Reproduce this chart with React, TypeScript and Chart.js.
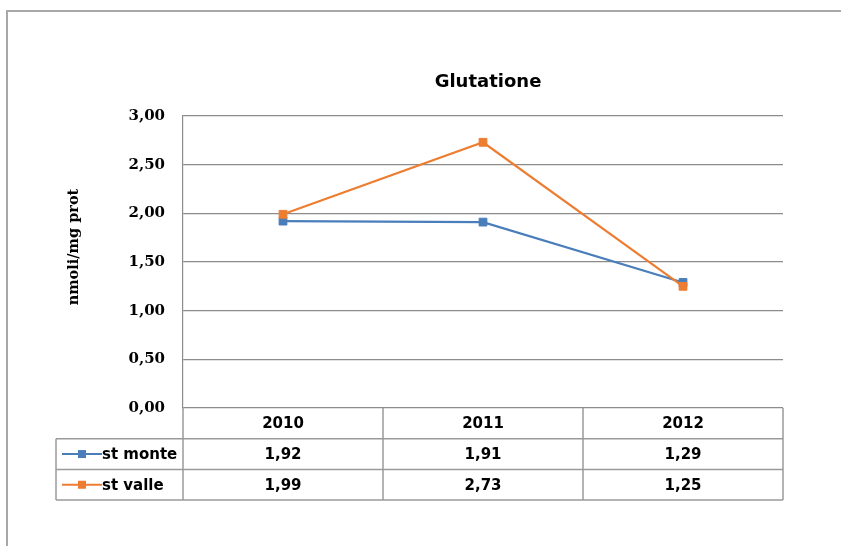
import React, { useEffect, useRef } from "react";
import { Chart, registerables } from "chart.js";

Chart.register(...registerables);

const years = ["2010", "2011", "2012"];
const stMonte = [1.92, 1.91, 1.29];
const stValle = [1.99, 2.73, 1.25];
const seriesNames = ["st monte", "st valle"];
const yTicks = [0, 0.5, 1, 1.5, 2, 2.5, 3];

const BLUE = "#4a7ebb";
const ORANGE = "#ed7d31";
const GRID = "#8c8c8c";
const TABLE_LINE = "#9a9a9a";

const fmt = (v: number) => v.toFixed(2).replace(".", ",");

// Draws the frame, the title, the rotated axis title and the data table under the plot.
const decorPlugin = {
  id: "decor",
  afterDraw(chart: any) {
    const { ctx, chartArea, scales } = chart;
    const x = scales.x;
    const c = ctx as CanvasRenderingContext2D;
    c.save();

    // outer frame (top and left edges are inside the canvas)
    c.strokeStyle = "#a8a8a8";
    c.lineWidth = 2;
    c.beginPath();
    c.moveTo(7, 560);
    c.lineTo(7, 11);
    c.lineTo(860, 11);
    c.stroke();

    // title
    c.fillStyle = "#000";
    c.font = "bold 18px 'DejaVu Sans'";
    c.textAlign = "center";
    c.textBaseline = "alphabetic";
    c.fillText("Glutatione", 488, 87);

    // y axis title
    c.save();
    c.translate(74, (chartArea.top + chartArea.bottom) / 2 - 15);
    c.rotate(-Math.PI / 2);
    c.font = "bold 14.5px 'DejaVu Serif'";
    c.textAlign = "center";
    c.textBaseline = "middle";
    c.fillText("nmoli/mg prot", 0, 0);
    c.restore();

    // data table
    const n = years.length;
    const band = (chartArea.right - chartArea.left) / n;
    const top = chartArea.bottom;
    const rowH = 30.7;
    const tableLeft = 56;
    const rows = [top, top + rowH, top + 2 * rowH, top + 3 * rowH];

    c.strokeStyle = TABLE_LINE;
    c.lineWidth = 1.5;
    c.beginPath();
    for (let r = 1; r <= 3; r++) {
      c.moveTo(tableLeft, rows[r]);
      c.lineTo(chartArea.right, rows[r]);
    }
    c.moveTo(tableLeft, rows[1]);
    c.lineTo(tableLeft, rows[3]);
    for (let i = 0; i <= n; i++) {
      const xx = chartArea.left + i * band;
      c.moveTo(xx, top);
      c.lineTo(xx, rows[3]);
    }
    c.stroke();

    c.fillStyle = "#000";
    c.font = "bold 15px 'DejaVu Sans'";
    c.textAlign = "center";
    c.textBaseline = "middle";
    const series = [stMonte, stValle];
    years.forEach((yr, i) => {
      const cx = x.getPixelForValue(i);
      c.fillText(yr, cx, (rows[0] + rows[1]) / 2 + 1);
      series.forEach((s, k) => {
        c.fillText(fmt(s[i]), cx, (rows[k + 1] + rows[k + 2]) / 2 + 1);
      });
    });

    // legend keys
    const colors = [BLUE, ORANGE];
    seriesNames.forEach((name, k) => {
      const cy = (rows[k + 1] + rows[k + 2]) / 2;
      c.strokeStyle = colors[k];
      c.lineWidth = 2;
      c.beginPath();
      c.moveTo(62, cy);
      c.lineTo(102, cy);
      c.stroke();
      c.fillStyle = colors[k];
      c.fillRect(78, cy - 4, 8, 8);
      c.fillStyle = "#000";
      c.textAlign = "left";
      c.fillText(name, 102, cy + 1);
    });

    c.restore();
  },
};

export default function App() {
  const ref = useRef<HTMLCanvasElement>(null);

  useEffect(() => {
    document.body.style.margin = "0";
    const canvas = ref.current;
    if (!canvas) return;
    const chart = new Chart(canvas, {
      type: "line",
      data: {
        labels: years,
        datasets: [
          {
            label: seriesNames[0],
            data: stMonte,
            borderColor: BLUE,
            backgroundColor: BLUE,
            borderWidth: 2.2,
            pointStyle: "rect",
            pointRadius: 5.5,
            pointBorderWidth: 1,
            pointBackgroundColor: BLUE,
            pointBorderColor: BLUE,
            tension: 0,
            order: 1,
          },
          {
            label: seriesNames[1],
            data: stValle,
            borderColor: ORANGE,
            backgroundColor: ORANGE,
            borderWidth: 2.2,
            pointStyle: "rect",
            pointRadius: 5.5,
            pointBorderWidth: 1,
            pointBackgroundColor: ORANGE,
            pointBorderColor: ORANGE,
            tension: 0,
            order: 0,
          },
        ],
      },
      options: {
        responsive: false,
        animation: false,
        devicePixelRatio: 1,
        layout: { padding: { left: 0, top: 116, right: 58, bottom: 0 } },
        plugins: {
          legend: { display: false },
          title: { display: false },
          tooltip: { enabled: false },
        },
        scales: {
          x: {
            type: "category",
            offset: true,
            grid: { display: false },
            border: { display: false },
            ticks: { display: false },
            afterFit: (scale: any) => {
              scale.height = 138;
            },
          },
          y: {
            min: 0,
            max: 3,
            afterBuildTicks: (scale: any) => {
              scale.ticks = yTicks.map((v) => ({ value: v }));
            },
            grid: { color: GRID, lineWidth: 1.2, drawTicks: false },
            border: { display: true, color: GRID, width: 1.2 },
            ticks: {
              padding: 18,
              color: "#000",
              font: { family: "'DejaVu Serif'", size: 15, weight: "bold" },
              callback: (v: any) => fmt(Number(v)),
            },
            afterFit: (scale: any) => {
              scale.width = 183;
            },
          },
        },
      },
      plugins: [decorPlugin],
    });
    return () => chart.destroy();
  }, []);

  return (
    <div style={{ width: 841, height: 546, background: "#fff" }}>
      <canvas ref={ref} width={841} height={546} style={{ display: "block" }} />
    </div>
  );
}
